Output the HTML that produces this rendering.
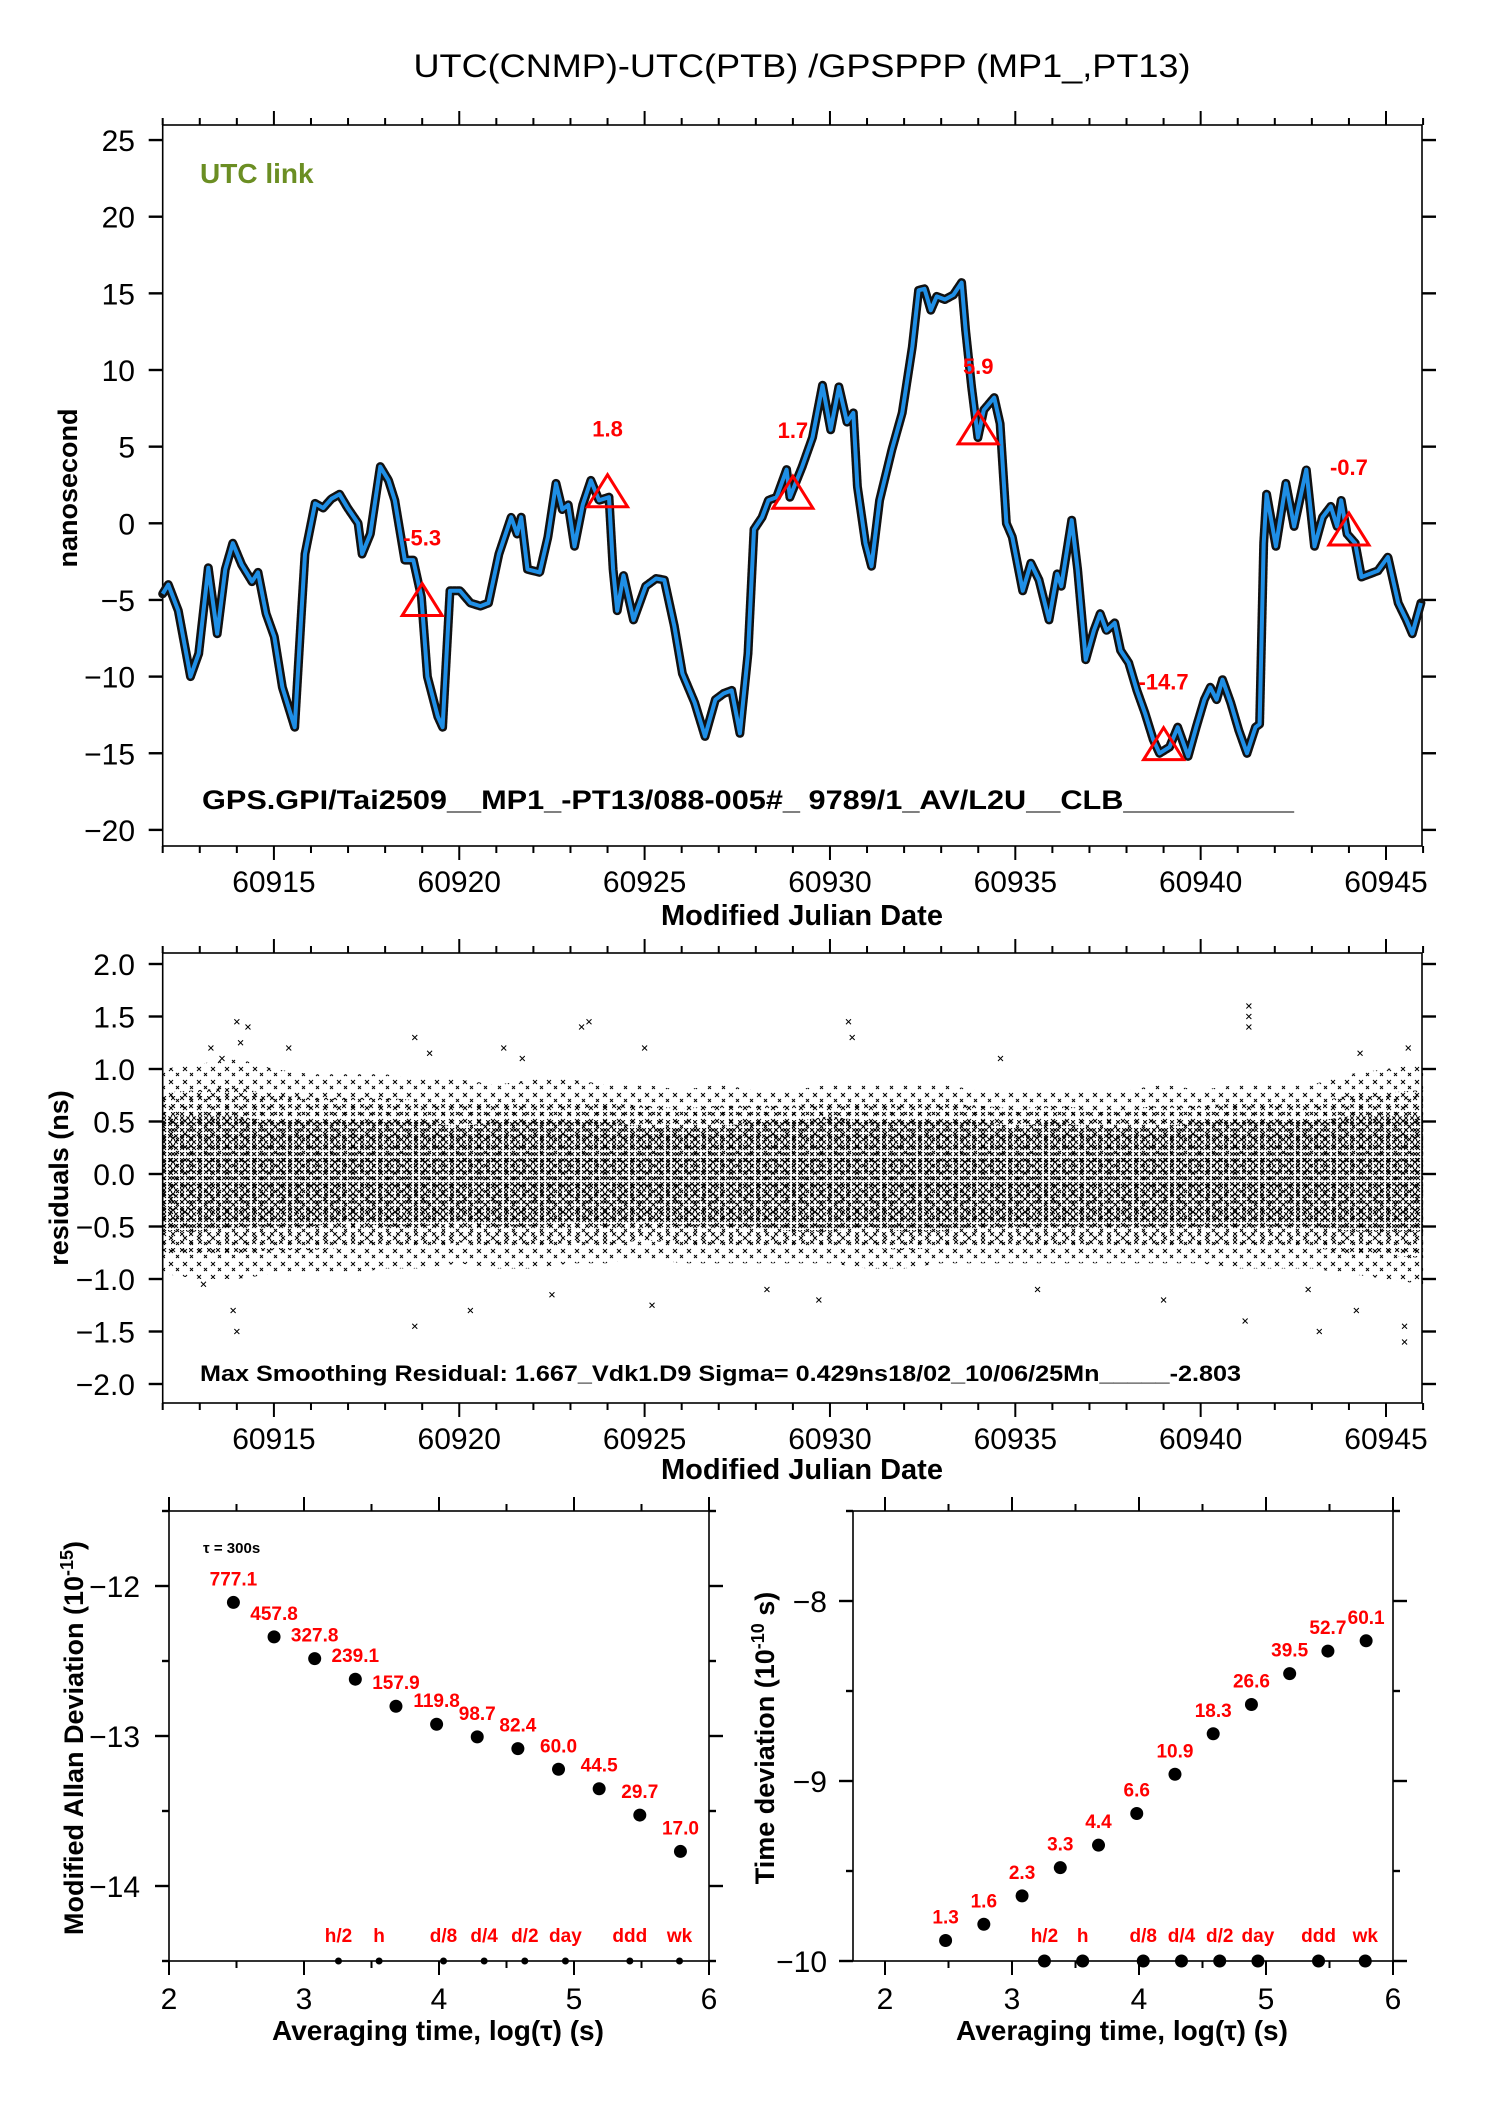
<!DOCTYPE html>
<html><head><meta charset="utf-8"><title>UTC(CNMP)-UTC(PTB) GPSPPP</title>
<style>
html,body{margin:0;padding:0;background:#fff;}
svg{display:block;font-family:"Liberation Sans",Arial,sans-serif;}
</style></head>
<body>
<svg id="chart" width="1488" height="2105" viewBox="0 0 1488 2105" xmlns="http://www.w3.org/2000/svg">
<defs>
<pattern id="pDense" width="6" height="6" patternUnits="userSpaceOnUse"><path d="M0,0L4,4M4,0L0,4" stroke="#000" stroke-width="1"/></pattern>
<pattern id="pMid" width="9" height="8" patternUnits="userSpaceOnUse"><path d="M0,0L4,4M4,0L0,4" stroke="#000" stroke-width="1"/></pattern>
<pattern id="pSparse" width="14" height="13" patternUnits="userSpaceOnUse"><path d="M1,1L5,5M5,1L1,5" stroke="#000" stroke-width="1"/><path d="M8,7L11,10M11,7L8,10" stroke="#000" stroke-width="1"/></pattern>
</defs>
<text x="802" y="77" font-size="32" text-anchor="middle" textLength="777" lengthAdjust="spacingAndGlyphs">UTC(CNMP)-UTC(PTB)  /GPSPPP  (MP1_,PT13)</text>
<g id="gTop"></g>
<g id="gMid"></g>
<g id="gBL"></g>
<g id="gBR"></g>
</svg>
<script>
// ---------- data ----------
var topDays = [0,0.15,0.42,0.75,0.97,1.23,1.47,1.69,1.89,2.13,2.41,2.57,2.79,3.01,3.23,3.56,3.73,3.84,4.11,4.33,4.55,4.77,4.99,5.27,5.38,5.60,5.87,6.09,6.26,6.53,6.76,6.98,7.14,7.42,7.55,7.75,8.02,8.30,8.57,8.79,9.07,9.40,9.56,9.67,9.84,10.17,10.39,10.61,10.78,10.94,11.11,11.33,11.55,11.77,12.04,12.15,12.26,12.43,12.70,13.03,13.31,13.53,13.80,14.02,14.35,14.63,14.91,15.13,15.35,15.57,15.79,15.95,16.17,16.34,16.56,16.83,16.92,17.25,17.53,17.80,18.02,18.24,18.46,18.63,18.74,18.96,19.12,19.34,19.67,19.95,20.22,20.39,20.55,20.72,20.88,21.10,21.33,21.55,21.66,21.82,21.99,22.15,22.43,22.59,22.76,22.92,23.20,23.42,23.64,23.91,24.13,24.24,24.52,24.68,24.90,25.12,25.29,25.46,25.68,25.84,26.06,26.28,26.50,26.72,26.89,27.16,27.38,27.66,27.88,28.10,28.26,28.43,28.59,28.81,29.03,29.25,29.48,29.59,29.70,29.78,30.03,30.30,30.52,30.69,30.85,31.07,31.29,31.51,31.68,31.79,31.95,32.17,32.34,32.56,32.78,33.05,33.33,33.55,33.71,33.94];
var topValues = [-4.6,-4.0,-5.7,-10.0,-8.5,-2.9,-7.2,-3.0,-1.3,-2.7,-3.8,-3.2,-5.9,-7.4,-10.7,-13.3,-6.3,-2.0,1.3,1.0,1.6,1.9,1.0,0.0,-2.0,-0.7,3.7,2.8,1.5,-2.4,-2.4,-4.8,-10.0,-12.6,-13.3,-4.4,-4.4,-5.2,-5.4,-5.2,-2.0,0.4,-0.7,0.4,-3.0,-3.2,-0.9,2.6,0.9,1.2,-1.5,1.2,2.8,1.5,1.7,-3.0,-5.7,-3.4,-6.3,-4.1,-3.6,-3.7,-6.7,-9.8,-11.7,-13.9,-11.5,-11.1,-10.9,-13.7,-8.5,-0.4,0.4,1.5,1.7,3.5,1.7,3.7,5.6,9.0,6.1,8.9,6.6,7.2,2.4,-1.3,-2.8,1.5,4.8,7.2,11.5,15.2,15.3,13.9,14.8,14.6,14.9,15.7,12.6,8.9,5.6,7.4,8.2,6.5,0.0,-0.9,-4.4,-2.6,-3.7,-6.3,-3.3,-4.1,0.2,-3.0,-8.9,-7.0,-5.9,-7.0,-6.5,-8.3,-9.1,-10.9,-12.4,-14.1,-15.0,-14.6,-13.3,-15.2,-13.3,-11.5,-10.7,-11.5,-10.2,-11.7,-13.5,-15.0,-13.3,-13.1,-1.3,1.9,-1.5,2.6,-0.2,1.7,3.5,-1.5,0.4,1.1,-0.2,1.5,-0.7,-1.3,-3.5,-3.3,-3.1,-2.2,-5.2,-6.3,-7.2,-5.2];
var triDays = [60919,60924,60929,60934,60939,60944];
var triValues = [-5.3,1.8,1.7,5.9,-14.7,-0.7];
var resDays = [60912,60913,60914,60915,60916,60917,60918,60919,60920,60921,60922,60923,60924,60925,60926,60927,60928,60929,60930,60931,60932,60933,60934,60935,60936,60937,60938,60939,60940,60941,60942,60943,60944,60945,60946];
var resCoreHi = [0.55,0.55,0.55,0.5,0.5,0.5,0.5,0.5,0.45,0.5,0.5,0.5,0.5,0.45,0.45,0.45,0.5,0.5,0.55,0.5,0.5,0.5,0.5,0.45,0.5,0.45,0.45,0.45,0.5,0.5,0.5,0.5,0.55,0.55,0.55];
var resCoreLo = [-0.55,-0.55,-0.5,-0.5,-0.5,-0.45,-0.5,-0.5,-0.45,-0.5,-0.5,-0.45,-0.5,-0.45,-0.5,-0.5,-0.5,-0.55,-0.55,-0.5,-0.55,-0.55,-0.5,-0.5,-0.5,-0.5,-0.5,-0.5,-0.5,-0.5,-0.5,-0.5,-0.55,-0.55,-0.55];
var resOuterHi = [1.0,1.05,1.1,1.0,0.95,0.95,0.95,0.9,0.9,0.85,0.9,0.9,0.85,0.85,0.8,0.85,0.8,0.8,0.85,0.85,0.85,0.85,0.8,0.8,0.8,0.8,0.8,0.85,0.8,0.85,0.85,0.85,0.95,1.0,1.05];
var resOuterLo = [-0.95,-1.0,-1.0,-0.95,-0.95,-0.95,-0.9,-0.9,-0.85,-0.9,-0.9,-0.85,-0.85,-0.8,-0.85,-0.85,-0.85,-0.85,-0.85,-0.9,-0.9,-0.85,-0.85,-0.85,-0.85,-0.85,-0.85,-0.85,-0.85,-0.9,-0.9,-0.9,-0.95,-1.0,-1.05];
var outDays = [60913.3,60913.6,60914.0,60914.3,60914.1,60915.4,60918.8,60919.2,60921.2,60921.7,60923.3,60923.5,60925.0,60930.5,60930.6,60934.6,60941.3,60941.3,60941.3,60944.3,60945.6,60913.1,60913.9,60914.0,60918.8,60920.3,60922.5,60925.2,60928.3,60929.7,60935.6,60939.0,60941.2,60942.9,60943.2,60944.2,60945.5,60945.5];
var outValues = [1.2,1.1,1.45,1.4,1.25,1.2,1.3,1.15,1.2,1.1,1.4,1.45,1.2,1.45,1.3,1.1,1.6,1.5,1.4,1.15,1.2,-1.05,-1.3,-1.5,-1.45,-1.3,-1.15,-1.25,-1.1,-1.2,-1.1,-1.2,-1.4,-1.1,-1.5,-1.3,-1.6,-1.45];
var mdevValues = [777.1,457.8,327.8,239.1,157.9,119.8,98.7,82.4,60.0,44.5,29.7,17.0];
var tdevValues = [1.3,1.6,2.3,3.3,4.4,6.6,10.9,18.3,26.6,39.5,52.7,60.1];
var tauSeconds = [300,600,1200,2400,4800,9600,19200,38400,76800,153600,307200,614400];
var markLabels = ["h/2","h","d/8","d/4","d/2","day","ddd","wk"];
var markSeconds = [1800,3600,10800,21600,43200,86400,259200,604800];
var topYTicks = [25,20,15,10,5,0,-5,-10,-15,-20];
var midYTicks = [2.0,1.5,1.0,0.5,0.0,-0.5,-1.0,-1.5,-2.0];
var mjdTicks = [60915,60920,60925,60930,60935,60940,60945];
var logTicks = [2,3,4,5,6];
var mdevTicks = [-12,-13,-14];
var tdevTicks = [-8,-9,-10];

// ---------- helpers ----------
var NS = "http://www.w3.org/2000/svg";
function el(parent, tag, attrs, txt){
  var e = document.createElementNS(NS, tag);
  for (var k in attrs) e.setAttribute(k, attrs[k]);
  if (txt !== undefined) e.textContent = txt;
  parent.appendChild(e);
  return e;
}
function fmtMinus(v, d){ var s = v.toFixed(d); return s.replace("-", "\u2212"); }

// scales
function XT(d){ return 162.7 + (d - 60912) * 37.07; }
function YT(v){ return 523.3 - v * 15.33; }
function YM(v){ return 1174 - v * 105; }
function XL(l){ return 169 + (l - 2) * 135; }
function YL(v){ return 1586 - (v + 12) * 150; }
function XR(l){ return 885 + (l - 2) * 127; }
function YR(v){ return 1961 - (v + 10) * 180; }

function frame(g, x0, y0, x1, y1, name){
  var r = el(g, "rect", {x:x0, y:y0, width:x1-x0, height:y1-y0, fill:"none", stroke:"#000", "stroke-width":1.6});
  
  
}
function tick(g, x1, y1, x2, y2, w){
  var t = el(g, "line", {x1:x1, y1:y1, x2:x2, y2:y2, stroke:"#000", "stroke-width":w||2});
  
  
}

// ---------- TOP PANEL ----------
(function(){
  var g = document.getElementById("gTop");
  var x0 = 162.7, x1 = 1422, y0 = 125, y1 = 846;
  for (var d = 60912; d <= 60946; d++){
    var x = XT(d), major = (d % 5 === 0);
    tick(g, x, y0, x, y0 - (major ? 14 : 7));
    tick(g, x, y1, x, y1 + (major ? 14 : 7));
  }
  mjdTicks.forEach(function(d){
    var t = el(g, "text", {x:XT(d), y:892, "font-size":30, "text-anchor":"middle"}, String(d));
    
    
  });
  topYTicks.forEach(function(v){
    var y = YT(v);
    tick(g, x0 - 14, y, x0, y, 2.4);
    tick(g, x1, y, x1 + 14, y, 2.4);
    var t = el(g, "text", {x:135, y:y + 11, "font-size":30, "text-anchor":"end"}, fmtMinus(v, 0));
    
    
  });
  frame(g, x0, y0, x1, y1, "time-series-plot-area");
  var pts = topDays.map(function(d, i){ return XT(60912 + d).toFixed(1) + "," + YT(topValues[i]).toFixed(1); }).join(" ");
  var band = el(g, "polyline", {points:pts, fill:"none", stroke:"#111", "stroke-width":9, "stroke-linejoin":"round", "stroke-linecap":"round", "stroke-dasharray":"3 1"});
  
  
  var line = el(g, "polyline", {points:pts, fill:"none", stroke:"#1f8fe6", "stroke-width":4, "stroke-linejoin":"round"});
  
  
  triDays.forEach(function(d, i){
    var cx = XT(d), cy = YT(triValues[i]);
    var tri = el(g, "polygon", {points:(cx-20)+","+(cy+11)+" "+(cx+20)+","+(cy+11)+" "+cx+","+(cy-21), fill:"none", stroke:"#f00", "stroke-width":3});
    
    
    var lb = el(g, "text", {x:cx, y:cy - 59, "font-size":22, "font-weight":"bold", fill:"#f00", "text-anchor":"middle"}, triValues[i].toFixed(1));
    
    
  });
  var u = el(g, "text", {x:200, y:183, "font-size":28, "font-weight":"bold", fill:"#6b8e23"}, "UTC link");
  
  
  var gp = el(g, "text", {x:202, y:809, "font-size":27, "font-weight":"bold", textLength:1092, lengthAdjust:"spacingAndGlyphs"}, "GPS.GPI/Tai2509__MP1_-PT13/088-005#_  9789/1_AV/L2U__CLB__________");
  
  
  var yt = el(g, "text", {x:0, y:0, "font-size":27, "font-weight":"bold", "text-anchor":"middle", transform:"translate(77,488) rotate(-90)"}, "nanosecond");
  
  
  var xt = el(g, "text", {x:802, y:925, "font-size":29, "font-weight":"bold", "text-anchor":"middle"}, "Modified Julian Date");
  
  
})();

// ---------- MIDDLE PANEL ----------
(function(){
  var g = document.getElementById("gMid");
  var x0 = 162.7, x1 = 1422, y0 = 953, y1 = 1403;
  for (var d = 60912; d <= 60946; d++){
    var x = XT(d), major = (d % 5 === 0);
    tick(g, x, y0, x, y0 - (major ? 14 : 7));
    tick(g, x, y1, x, y1 + (major ? 14 : 7));
  }
  mjdTicks.forEach(function(d){
    var t = el(g, "text", {x:XT(d), y:1449, "font-size":30, "text-anchor":"middle"}, String(d));
    
    
  });
  midYTicks.forEach(function(v){
    var y = YM(v);
    tick(g, x0 - 14, y, x0, y, 2.4);
    tick(g, x1, y, x1 + 14, y, 2.4);
    var t = el(g, "text", {x:135, y:y + 11, "font-size":30, "text-anchor":"end"}, fmtMinus(v, 1));
    
    
  });
  function band(hi, lo, fill, name){
    var up = resDays.map(function(d, i){ return XT(d).toFixed(1) + "," + YM(hi[i]).toFixed(1); });
    var dn = resDays.map(function(d, i){ return XT(d).toFixed(1) + "," + YM(lo[i]).toFixed(1); }).reverse();
    var p = el(g, "polygon", {points:up.concat(dn).join(" "), fill:fill, stroke:"none"});
    
    
  }
  var midHi = resCoreHi.map(function(v, i){ return (v + resOuterHi[i]) / 2; });
  var midLo = resCoreLo.map(function(v, i){ return (v + resOuterLo[i]) / 2; });
  band(resOuterHi, resOuterLo, "url(#pSparse)", "residual-outer-scatter");
  band(midHi, midLo, "url(#pMid)", "residual-mid-scatter");
  band(resCoreHi, resCoreLo, "url(#pDense)", "residual-core-scatter");
  outDays.forEach(function(d, i){
    var x = XT(d), y = YM(outValues[i]);
    var m = el(g, "path", {d:"M"+(x-2.5)+","+(y-2.5)+"L"+(x+2.5)+","+(y+2.5)+"M"+(x+2.5)+","+(y-2.5)+"L"+(x-2.5)+","+(y+2.5), stroke:"#000", "stroke-width":1});
    
    
  });
  frame(g, x0, y0, x1, y1, "residuals-plot-area");
  var ms = el(g, "text", {x:200, y:1381, "font-size":22, "font-weight":"bold", textLength:1041, lengthAdjust:"spacingAndGlyphs"}, "Max Smoothing Residual: 1.667_Vdk1.D9  Sigma= 0.429ns18/02_10/06/25Mn_____-2.803");
  
  
  var yt = el(g, "text", {x:0, y:0, "font-size":27, "font-weight":"bold", "text-anchor":"middle", transform:"translate(68,1178) rotate(-90)"}, "residuals (ns)");
  
  
  var xt = el(g, "text", {x:802, y:1479, "font-size":29, "font-weight":"bold", "text-anchor":"middle"}, "Modified Julian Date");
  
  
})();

// ---------- BOTTOM PANELS ----------
function stabilityPanel(gid, X, Y, x0, x1, y0, y1, vals, yTicks, yMin, yMax, labelRight, bigMarks, titleX, titleText, isTdev){
  var g = document.getElementById(gid);
  for (var l = 2; l <= 6; l += 0.5){
    var x = X(l), major = (l % 1 === 0);
    tick(g, x, y0, x, y0 - (major ? 14 : 7));
    tick(g, x, y1, x, y1 + (major ? 14 : 7));
  }
  logTicks.forEach(function(l){
    var t = el(g, "text", {x:X(l), y:2009, "font-size":30, "text-anchor":"middle"}, String(l));
    
    
  });
  for (var v = yMin; v <= yMax + 0.001; v += 0.5){
    var y = Y(v), major = (Math.abs(v - Math.round(v)) < 0.01);
    tick(g, x0 - (major ? 14 : 7), y, x0, y, 2.4);
    tick(g, x1, y, x1 + (major ? 14 : 7), y, 2.4);
  }
  yTicks.forEach(function(v){
    var t = el(g, "text", {x:labelRight, y:Y(v) + 11, "font-size":30, "text-anchor":"end"}, fmtMinus(v, 0));
    
    
  });
  frame(g, x0, y0, x1, y1, gid + "-plot-area");
  vals.forEach(function(val, i){
    var lx = Math.log10(tauSeconds[i]);
    var ly = isTdev ? Math.log10(val * 1e-10) : Math.log10(val * 1e-15);
    var c = el(g, "circle", {cx:X(lx), cy:Y(ly), r:6.5, fill:"#000"});
    
    
    var t = el(g, "text", {x:X(lx), y:Y(ly) - 17, "font-size":19, "font-weight":"bold", fill:"#f00", "text-anchor":"middle"}, val.toFixed(1));
    
    
  });
  markSeconds.forEach(function(s, i){
    var lx = Math.log10(s);
    var c = el(g, "circle", {cx:X(lx), cy:y1, r:bigMarks ? 6.5 : 3.5, fill:"#000"});
    
    
    var t = el(g, "text", {x:X(lx), y:y1 - 19, "font-size":19, "font-weight":"bold", fill:"#f00", "text-anchor":"middle"}, markLabels[i]);
    
    
  });
  var xt = el(g, "text", {x:(x0 + x1) / 2 - 1, y:2040, "font-size":28, "font-weight":"bold", "text-anchor":"middle"}, "Averaging time, log(\u03C4) (s)");
  
  
  var yt = el(g, "text", {x:0, y:0, "font-size":27, "font-weight":"bold", "text-anchor":"middle", transform:"translate(" + titleX + ",1738) rotate(-90)"});
  
  
  var parts = titleText;
  el(yt, "tspan", {}, parts[0]);
  el(yt, "tspan", {"font-size":18, dy:-10}, parts[1]);
  el(yt, "tspan", {dy:10}, parts[2]);
  return g;
}
var gbl = stabilityPanel("gBL", XL, YL, 169, 709, 1511, 1961, mdevValues, mdevTicks, -14.5, -11.5, 140, false, 83, ["Modified Allan Deviation (10", "-15", ")"], false);
var tau = el(gbl, "text", {x:203, y:1553, "font-size":15, "font-weight":"bold"}, "\u03C4 = 300s");


stabilityPanel("gBR", XR, YR, 853, 1393, 1511, 1961, tdevValues, tdevTicks, -10, -7.5, 827, true, 774, ["Time deviation (10", "-10", " s)"], true);
</script>
</body></html>
